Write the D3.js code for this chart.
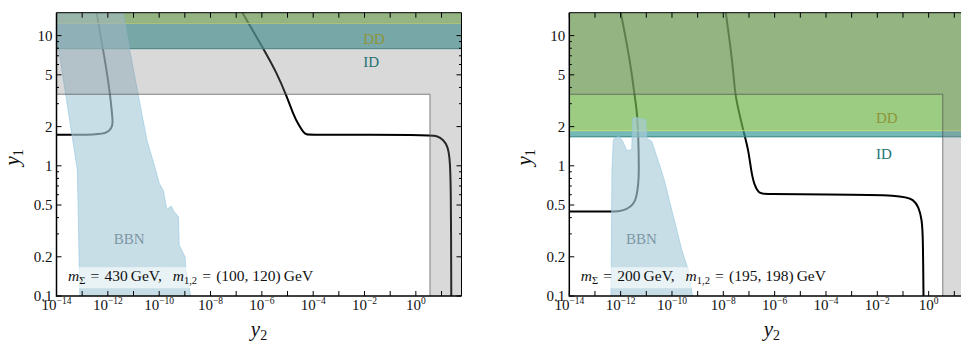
<!DOCTYPE html>
<html lang="en">
<head>
<meta charset="UTF-8">
<title>y1 vs y2</title>
<script src="https://d3js.org/d3.v7.min.js"></script>
<style>
  body { margin: 0; background: #fff; }
  svg { display: block; font-family: "Liberation Serif", "Times New Roman", serif; }
</style>
</head>
<body>
<svg id="chart" width="961" height="347"></svg>
<script>

// axis ranges and ticks
var xDomain = [1e-14, 60];
var yDomain = [0.1, 15];
var xTickExp = d3.range(-14, 2);
var xLabelExp = [-14, -12, -10, -8, -6, -4, -2, 0];
var yMajor = [0.1, 0.2, 0.5, 1, 2, 5, 10];
var yMinor = [0.3, 0.4, 0.6, 0.7, 0.8, 0.9, 3, 4, 6, 7, 8, 9];

// benchmark masses (GeV)
var mSigma = [430, 200];
var m12 = [[100, 120], [195, 198]];

// exclusion bounds on y1
var ddMin = [12.4, 1.86];
var idMin = [7.94, 1.67];
var perturbative = Math.sqrt(4 * Math.PI);

// relic-density contour, two branches per panel: [y2, y1]
var curveLeftA = [[5.6e-15, 1.73], [5.0e-13, 1.73], [9.5e-13, 1.80], [1.42e-12, 1.95], [1.55e-12, 2.13],
  [1.5e-12, 2.39], [1.22e-12, 3.56], [8.5e-13, 5.8], [4.97e-13, 10.5], [3.7e-13, 15]];
var curveLeftB = [[1.75e-7, 15], [1.15e-6, 7.94], [3.85e-6, 5.16], [9.4e-6, 3.41], [1.7e-5, 2.47],
  [2.67e-5, 2.07], [4.2e-5, 1.80], [5.5e-5, 1.74], [7.6e-5, 1.73], [3.13, 1.73], [6.65, 1.70], [12.0, 1.585],
  [17.2, 1.41], [20.6, 1.18], [23.3, 0.78], [24.0, 0.09]];
var curveRightA = [[4.3e-15, 0.445], [4.5e-13, 0.445], [9.5e-13, 0.448], [1.73e-12, 0.464],
  [3.13e-12, 0.501], [4.25e-12, 0.581], [4.9e-12, 0.736], [5.2e-12, 0.879], [4.9e-12, 1.785],
  [4.25e-12, 2.70], [3.42e-12, 3.56], [2.71e-12, 5.16], [1.73e-12, 8.79], [1.01e-12, 15]];
var curveRightB = [[1.25e-8, 15], [1.96e-8, 7.8], [2.48e-8, 5.16], [2.88e-8, 3.56], [3.88e-8, 2.70],
  [6.1e-8, 1.84], [9.5e-8, 1.33], [1.21e-7, 0.915], [1.59e-7, 0.714], [2.4e-7, 0.62], [3.17e-7, 0.606],
  [1e-4, 0.603], [0.105, 0.598], [0.258, 0.548], [0.404, 0.486], [0.548, 0.384], [0.60, 0.286], [0.632, 0.09]];

// BBN excluded regions: [y2, y1]
var bbnLeft = [[7.3e-15, 15], [4.0e-12, 15], [6.9e-12, 8.0], [1.5e-11, 3.58], [3.3e-11, 1.585],
  [6.9e-11, 0.965], [1.0e-10, 0.736], [1.46e-10, 0.646], [1.98e-10, 0.459], [2.9e-10, 0.492],
  [3.8e-10, 0.445], [5.6e-10, 0.407], [6.0e-10, 0.247], [1.02e-9, 0.199], [1.09e-9, 0.158],
  [1.87e-9, 0.09], [8.2e-14, 0.09], [6.5e-14, 0.93]];
var bbnRight = [[4.2e-13, 0.09], [4.6e-13, 0.93], [5.2e-13, 1.585], [6.05e-13, 1.65], [8.9e-13, 1.68],
  [1.21e-12, 1.54], [1.73e-12, 1.31], [2.71e-12, 1.33], [2.97e-12, 2.33], [4.25e-12, 2.35],
  [7.7e-12, 2.26], [9.5e-12, 2.29], [1.04e-11, 1.63], [1.63e-11, 1.54], [2.55e-11, 1.18],
  [4.0e-11, 0.90], [5.4e-11, 0.736], [8.4e-11, 0.516], [1.54e-10, 0.322], [2.41e-10, 0.226],
  [4.35e-10, 0.158], [6.8e-10, 0.09]];

// label anchors [y2, y1]
var ddLabel = [[8.9e-3, 9.5], [8.9e-3, 2.36]];
var idLabel = [[8.9e-3, 6.3], [8.9e-3, 1.24]];
var bbnLabel = [[6.8e-12, 0.277], [6.5e-12, 0.277]];

var panelLeft = [56.5, 569.3];
var plotTop = 12.7, width = 405, height = 283.3;

var svg = d3.select("#chart");

var x = d3.scaleLog().domain(xDomain).range([0, width]);
var y = d3.scaleLog().domain(yDomain).range([height, 0]);
var line = d3.line().x(function(d) { return x(d[0]); }).y(function(d) { return y(d[1]); });
var smooth = d3.line().curve(d3.curveBasis)
  .x(function(d) { return x(d[0]); }).y(function(d) { return y(d[1]); });

var curves = [[curveLeftA, curveLeftB], [curveRightA, curveRightB]];
var bbn = [bbnLeft, bbnRight];

function sup(sel, base, s) {
  sel.append("tspan").text(base);
  sel.append("tspan").attr("font-size", 9.5).attr("dy", -6).text(s);
}

panelLeft.forEach(function(left, p) {
  var g = svg.append("g").attr("transform", "translate(" + left + "," + plotTop + ")");

  g.append("clipPath").attr("id", "clip" + p)
    .append("rect").attr("width", width).attr("height", height);

  var plot = g.append("g").attr("clip-path", "url(#clip" + p + ")");

  // relic contour (drawn under the shaded regions)
  curves[p].forEach(function(c) {
    plot.append("path").attr("d", smooth(c))
      .attr("fill", "none").attr("stroke", "#000").attr("stroke-width", 2);
  });

  // indirect detection band
  plot.append("rect")
    .attr("x", 0).attr("width", width)
    .attr("y", y(ddMin[p])).attr("height", y(idMin[p]) - y(ddMin[p]))
    .attr("fill", "rgb(57,154,154)").attr("fill-opacity", 0.7);
  plot.append("line")
    .attr("x1", 0).attr("x2", width).attr("y1", y(idMin[p])).attr("y2", y(idMin[p]))
    .attr("stroke", "rgb(50,130,130)").attr("stroke-width", 1);

  // direct detection region
  plot.append("rect")
    .attr("x", 0).attr("width", width)
    .attr("y", -5).attr("height", y(ddMin[p]) + 5)
    .attr("fill", "rgb(114,181,77)").attr("fill-opacity", 0.7);
  plot.append("line")
    .attr("x1", 0).attr("x2", width).attr("y1", y(ddMin[p])).attr("y2", y(ddMin[p]))
    .attr("stroke", "rgb(190,222,120)").attr("stroke-width", 1);

  // BBN
  plot.append("path").attr("d", line(bbn[p]) + "Z")
    .attr("fill", "rgb(170,205,218)").attr("fill-opacity", 0.65)
    .attr("stroke", "rgb(150,200,225)").attr("stroke-opacity", 0.8).attr("stroke-width", 0.8);

  // perturbativity
  var pert = [[xDomain[0] / 10, yDomain[1] * 2], [xDomain[0] / 10, perturbative], [perturbative, perturbative],
    [perturbative, yDomain[0] / 2], [xDomain[1] * 2, yDomain[0] / 2], [xDomain[1] * 2, yDomain[1] * 2]];
  plot.append("path").attr("d", line(pert) + "Z")
    .attr("fill", "rgb(128,128,128)").attr("fill-opacity", 0.3)
    .attr("stroke", "rgb(80,80,80)").attr("stroke-opacity", 0.7).attr("stroke-width", 1);

  // region labels
  plot.append("text").attr("x", x(ddLabel[p][0])).attr("y", y(ddLabel[p][1])).attr("dy", "0.35em")
    .attr("font-size", 15).attr("fill", "rgb(140,150,55)").text("DD");
  plot.append("text").attr("x", x(idLabel[p][0])).attr("y", y(idLabel[p][1])).attr("dy", "0.35em")
    .attr("font-size", 15).attr("fill", "rgb(35,115,115)").text("ID");
  plot.append("text").attr("x", x(bbnLabel[p][0])).attr("y", y(bbnLabel[p][1])).attr("dy", "0.35em")
    .attr("text-anchor", "middle").attr("font-size", 15).attr("fill", "rgb(125,150,165)").text("BBN");

  // benchmark annotation
  var box = g.append("rect");
  var t = g.append("text").attr("x", 11.5).attr("y", 268.5).attr("font-size", 15.5).attr("fill", "#111");
  t.append("tspan").attr("font-style", "italic").text("m");
  t.append("tspan").attr("font-size", 10.5).attr("dy", 3).text("Σ");
  t.append("tspan").attr("dy", -3).text("\u2004=\u2004" + mSigma[p] + "\u2009GeV,\u2002\u2009");
  t.append("tspan").attr("font-style", "italic").text("m");
  t.append("tspan").attr("font-size", 10.5).attr("dy", 3).text("1,2");
  t.append("tspan").attr("dy", -3).text("\u2004=\u2004(" + m12[p][0] + ", " + m12[p][1] + ")\u2009GeV");
  var bb = t.node().getBBox();
  box.attr("x", bb.x - 2.5).attr("y", 254.5).attr("width", bb.width + 5).attr("height", 21)
    .attr("fill", "#fff").attr("fill-opacity", 0.6);

  // frame
  g.append("line").attr("x1", 0).attr("x2", width).attr("y1", 0).attr("y2", 0).attr("stroke", "#000");
  g.append("line").attr("x1", width).attr("x2", width).attr("y1", 0).attr("y2", height).attr("stroke", "#000");
  g.append("line").attr("x1", 0).attr("x2", 0).attr("y1", 0).attr("y2", height + 0.7)
    .attr("stroke", "#000").attr("stroke-width", 1.5);
  g.append("line").attr("x1", 0).attr("x2", width).attr("y1", height).attr("y2", height)
    .attr("stroke", "#000").attr("stroke-width", 1.5);

  // x ticks, bottom and top
  xTickExp.forEach(function(e) {
    var px = x(Math.pow(10, e));
    g.append("line").attr("x1", px).attr("x2", px).attr("y1", height).attr("y2", height - 5).attr("stroke", "#000");
    g.append("line").attr("x1", px).attr("x2", px).attr("y1", 0).attr("y2", 5).attr("stroke", "#000");
  });
  xLabelExp.forEach(function(e) {
    var lab = g.append("text").attr("x", x(Math.pow(10, e))).attr("y", height + 14)
      .attr("text-anchor", "middle").attr("font-size", 15).attr("fill", "#111");
    sup(lab, "10", e < 0 ? "\u2212" + (-e) : String(e));
  });

  // y ticks, left and right
  yMajor.forEach(function(v) {
    var py = y(v);
    g.append("line").attr("x1", 0).attr("x2", 5).attr("y1", py).attr("y2", py).attr("stroke", "#000");
    g.append("line").attr("x1", width).attr("x2", width - 5).attr("y1", py).attr("y2", py).attr("stroke", "#000");
    g.append("text").attr("x", -4).attr("y", py).attr("dy", "0.35em").attr("text-anchor", "end")
      .attr("font-size", 15).attr("fill", "#111").text(v);
  });
  yMinor.forEach(function(v) {
    var py = y(v);
    g.append("line").attr("x1", 0).attr("x2", 2.5).attr("y1", py).attr("y2", py).attr("stroke", "#000");
    g.append("line").attr("x1", width).attr("x2", width - 2.5).attr("y1", py).attr("y2", py).attr("stroke", "#000");
  });

  // axis titles
  var xt = g.append("text").attr("x", width / 2).attr("y", height + 40)
    .attr("text-anchor", "middle").attr("font-size", 21).attr("fill", "#111");
  xt.append("tspan").attr("font-style", "italic").text("y");
  xt.append("tspan").attr("font-size", 14).attr("dy", 4).text("2");

  var yt = g.append("text").attr("transform", "translate(-38," + (height / 2 + 3) + ")rotate(-90)")
    .attr("text-anchor", "middle").attr("font-size", 21).attr("fill", "#111");
  yt.append("tspan").attr("font-style", "italic").text("y");
  yt.append("tspan").attr("font-size", 14).attr("dy", 4).text("1");
});

</script>
</body>
</html>
